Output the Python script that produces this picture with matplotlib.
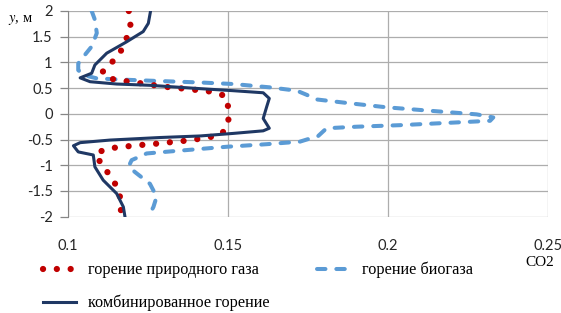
import matplotlib
matplotlib.use("Agg")
import matplotlib.pyplot as plt
from matplotlib.ticker import MultipleLocator

plt.rcParams["mathtext.fontset"] = "stix"

# profiles of CO2 mass fraction vs height y, m
ng_x = [0.119, 0.1195, 0.1183, 0.1165, 0.1137, 0.1107, 0.1142, 0.1187, 0.1233, 0.1276,
        0.1319, 0.1363, 0.1408, 0.145, 0.1493, 0.1502, 0.1501, 0.148, 0.1438, 0.1395,
        0.135, 0.1306, 0.1261, 0.1218, 0.1173, 0.1129, 0.109, 0.1102, 0.1131, 0.1154,
        0.1166, 0.1165, 0.1165]
ng_y = [2.0, 1.73, 1.47, 1.22, 1.0, 0.81, 0.67, 0.63, 0.59, 0.55,
        0.515, 0.49, 0.46, 0.43, 0.345, 0.09, -0.18, -0.40, -0.46, -0.50,
        -0.535, -0.56, -0.59, -0.61, -0.64, -0.67, -0.755, -0.98, -1.19, -1.43,
        -1.69, -1.955, -2.0]

bio_x = [0.1074, 0.1084, 0.109, 0.1074, 0.1048, 0.1032, 0.1032, 0.1048, 0.109, 0.1152,
         0.1256, 0.1413, 0.1517, 0.1631, 0.1715, 0.1746, 0.1777, 0.1881, 0.1996, 0.2142,
         0.2277, 0.2329, 0.2319, 0.2204, 0.2038, 0.1902, 0.1808, 0.1782, 0.1725, 0.1621,
         0.1496, 0.134, 0.1246, 0.1199, 0.1189, 0.1215, 0.1256, 0.1277, 0.1267, 0.1251]
bio_y = [2.0, 1.83, 1.57, 1.31, 1.11, 0.98, 0.85, 0.755, 0.69, 0.67,
         0.645, 0.61, 0.58, 0.515, 0.45, 0.37, 0.28, 0.205, 0.127, 0.055,
         -0.01, -0.07, -0.135, -0.17, -0.22, -0.25, -0.28, -0.43, -0.54, -0.59,
         -0.64, -0.72, -0.77, -0.90, -1.03, -1.16, -1.36, -1.61, -1.81, -2.0]

comb_x = [0.1258, 0.1251, 0.1235, 0.1183, 0.1121, 0.1084, 0.1074, 0.1038, 0.1069, 0.1152,
          0.1256, 0.1413, 0.1517, 0.161, 0.1629, 0.1621, 0.161, 0.1629, 0.161, 0.1517,
          0.1413, 0.1288, 0.1131, 0.1038, 0.1017, 0.1032, 0.1079, 0.1084, 0.111, 0.1152,
          0.1173, 0.1178]
comb_y = [2.0, 1.76, 1.6, 1.40, 1.18, 0.95, 0.79, 0.70, 0.625, 0.58,
          0.555, 0.49, 0.45, 0.41, 0.30, 0.14, -0.09, -0.28, -0.33, -0.38,
          -0.43, -0.46, -0.51, -0.56, -0.62, -0.74, -0.80, -1.03, -1.29, -1.55,
          -1.81, -2.0]

labels = ["горение природного газа", "горение биогаза", "комбинированное горение"]

fig = plt.figure(figsize=(5.61, 3.13), dpi=100)
W, H = 561, 313
ax = fig.add_axes([68 / W, 1 - 216.7 / H, 480 / W, 205.7 / H])

l_ng, = ax.plot(ng_x, ng_y, color="#C00000", lw=4.5, linestyle=(0, (0.01, 2.2)),
                dash_capstyle="round", zorder=3)
l_bio, = ax.plot(bio_x, bio_y, color="#5B9BD5", lw=2.9, linestyle=(0, (2.1, 2.7)),
                 dash_capstyle="round", zorder=2)
l_comb, = ax.plot(comb_x, comb_y, color="#1F3864", lw=2.2, zorder=4)

ax.set_xlim(0.1, 0.25)
ax.set_ylim(-2, 2)
ax.xaxis.set_major_locator(MultipleLocator(0.05))
ax.yaxis.set_major_locator(MultipleLocator(0.5))
ax.set_xticks([0.1, 0.15, 0.2, 0.25], ["0.1", "0.15", "0.2", "0.25"])
ax.set_yticks([-2, -1.5, -1, -0.5, 0, 0.5, 1, 1.5, 2],
              ["-2", "-1.5", "-1", "-0.5", "0", "0.5", "1", "1.5", "2"])
ax.grid(True, color="#ADADAD", lw=0.9)
ax.set_axisbelow(True)
for s in ["top", "right", "bottom"]:
    ax.spines[s].set_visible(False)
ax.spines["left"].set_color("#868686")
ax.tick_params(axis="y", length=6, color="#868686", width=0.9, pad=5,
               labelsize=10.5, labelcolor="#262626")
ax.tick_params(axis="x", length=0, pad=16, labelsize=10.5, labelcolor="#262626")
for t in ax.get_xticklabels() + ax.get_yticklabels():
    t.set_family("Lato")

fig.text(8 / W, 1 - 20 / H, "$\\mathit{y}$, м", fontsize=10.5, family="Liberation Serif",
         ha="left", va="center")
fig.text(540 / W, 1 - 262 / H, "CO2", fontsize=11, family="Liberation Serif",
         ha="center", va="center")

leg = fig.legend([l_ng, l_comb, l_bio], [labels[0], labels[2], labels[1]],
                 ncol=2, loc="upper left", bbox_to_anchor=(43 / W, 1 - 262 / H),
                 frameon=False, prop={"family": "Liberation Serif", "size": 11.7},
                 handlelength=2.0, handletextpad=0.75, columnspacing=2.95,
                 labelspacing=1.0, borderpad=0, borderaxespad=0)

fig.savefig("out.png", dpi=100)
